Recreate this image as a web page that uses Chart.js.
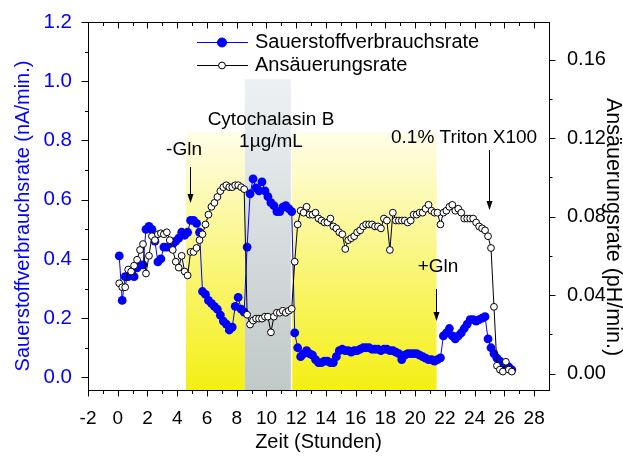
<!DOCTYPE html>
<html>
<head>
<meta charset="utf-8">
<script src="https://cdn.jsdelivr.net/npm/chart.js@4/dist/chart.umd.min.js"></script>
<style>
  html, body { margin: 0; padding: 0; background: #fff; }
  canvas { display: block; }
</style>
</head>
<body>
<canvas id="c" width="623" height="461"></canvas>
<script>
// Measurement times (hours)
const hours = [
  0.1, 0.3, 0.5, 0.7, 0.9, 1.1, 1.3, 1.5, 1.7, 1.9,
  2.1, 2.3, 2.5, 2.7, 2.9, 3.1, 3.3, 3.5, 3.7, 3.9,
  4.1, 4.3, 4.5, 4.7, 4.9, 5.1, 5.3, 5.5, 5.7, 5.9,
  6.1, 6.3, 6.5, 6.7, 6.9, 7.1, 7.3, 7.5, 7.7, 7.9,
  8.1, 8.3, 8.5, 8.7, 8.9, 9.1, 9.3, 9.5, 9.7, 9.9,
  10.1, 10.3, 10.5, 10.7, 10.9, 11.1, 11.3, 11.5, 11.7, 11.9,
  12.1, 12.3, 12.5, 12.7, 12.9, 13.1, 13.3, 13.5, 13.7, 13.9,
  14.1, 14.3, 14.5, 14.7, 14.9, 15.1, 15.3, 15.5, 15.7, 15.9,
  16.1, 16.3, 16.5, 16.7, 16.9, 17.1, 17.3, 17.5, 17.7, 17.9,
  18.1, 18.3, 18.5, 18.7, 18.9, 19.1, 19.3, 19.5, 19.7, 19.9,
  20.1, 20.3, 20.5, 20.7, 20.9, 21.1, 21.3, 21.5, 21.7, 21.9,
  22.1, 22.3, 22.5, 22.7, 22.9, 23.1, 23.3, 23.5, 23.7, 23.9,
  24.1, 24.3, 24.5, 24.7, 24.9, 25.1, 25.3, 25.5, 25.7, 25.9,
  26.1, 26.3, 26.5
];

// Sauerstoffverbrauchsrate (nA/min.)
const oxygenRate = [
  0.41, 0.26, 0.34, 0.34, 0.35, 0.34, 0.37, 0.38, 0.38, 0.50,
  0.51, 0.50, 0.46, 0.39, 0.40, 0.44, 0.44, 0.44, 0.45, 0.46,
  0.47, 0.49, 0.48, 0.49, 0.53, 0.53, 0.52, 0.49, 0.29, 0.28,
  0.26, 0.25, 0.24, 0.23, 0.21, 0.19, 0.18, 0.16, 0.17, 0.24,
  0.27, 0.23, 0.22, 0.44, 0.62, 0.67, 0.64, 0.63, 0.66, 0.63,
  0.61, 0.59, 0.58, 0.56, 0.56, 0.575, 0.58, 0.57, 0.56, 0.15,
  0.10, 0.07, 0.08, 0.09, 0.08, 0.075, 0.06, 0.05, 0.05, 0.055,
  0.055, 0.05, 0.05, 0.07, 0.09, 0.095, 0.09, 0.09, 0.085, 0.09,
  0.09, 0.095, 0.10, 0.10, 0.10, 0.095, 0.095, 0.095, 0.09, 0.095,
  0.095, 0.09, 0.09, 0.085, 0.08, 0.06, 0.075, 0.08, 0.08, 0.08,
  0.08, 0.075, 0.07, 0.065, 0.06, 0.06, 0.055, 0.06, 0.066, 0.14,
  0.15, 0.165, 0.14, 0.13, 0.14, 0.15, 0.165, 0.18, 0.195, 0.195,
  0.19, 0.195, 0.20, 0.205, 0.13, 0.10, 0.08, 0.065, 0.055, 0.045,
  0.04, 0.035, 0.025
];

// Ansäuerungsrate (pH/min.)
const acidRate = [
  0.046, 0.044, 0.044, 0.053, 0.052, 0.055, 0.058, 0.063, 0.066, 0.051,
  0.060, 0.070, 0.068, 0.071, 0.0715, 0.071, 0.072, 0.068, 0.063, 0.057,
  0.054, 0.060, 0.052, 0.050, 0.062, 0.062, 0.064, 0.068, 0.071, 0.076,
  0.081, 0.085, 0.087, 0.090, 0.093, 0.095, 0.096, 0.095, 0.095, 0.096,
  0.096, 0.095, 0.094, 0.030, 0.025, 0.027, 0.028, 0.028, 0.028, 0.029,
  0.029, 0.021, 0.029, 0.031, 0.031, 0.032, 0.031, 0.032, 0.033, 0.057,
  0.076, 0.083, 0.082, 0.085, 0.081, 0.081, 0.082, 0.079, 0.078, 0.077,
  0.077, 0.079, 0.075, 0.074, 0.072, 0.071, 0.0635, 0.068, 0.069, 0.070,
  0.072, 0.073, 0.075, 0.076, 0.076, 0.076, 0.075, 0.075, 0.074, 0.079,
  0.078, 0.063, 0.082, 0.078, 0.078, 0.078, 0.078, 0.077, 0.078, 0.081,
  0.081, 0.082, 0.082, 0.084, 0.086, 0.083, 0.082, 0.082, 0.076, 0.082,
  0.083, 0.085, 0.086, 0.083, 0.084, 0.082, 0.079, 0.079, 0.079, 0.079,
  0.077, 0.075, 0.074, 0.073, 0.070, 0.064, 0.034, 0.004, 0.002, 0.001,
  0.006, 0.002, 0.001
];

// Axis ticks
const xTickValues = [-2, 0, 2, 4, 6, 8, 10, 12, 14, 16, 18, 20, 22, 24, 26, 28];
const xMinorValues = [-1, 1, 3, 5, 7, 9, 11, 13, 15, 17, 19, 21, 23, 25, 27];
const leftTickValues = [0, 0.2, 0.4, 0.6, 0.8, 1.0, 1.2];
const leftMinorValues = [0.1, 0.3, 0.5, 0.7, 0.9, 1.1];
const rightTickValues = [0, 0.04, 0.08, 0.12, 0.16];
const rightMinorValues = [0.02, 0.06, 0.10, 0.14];

// Treatment phases (hours): glutamine-free, cytochalasin B, glutamine-free
const phaseStart = [4.58, 8.55, 11.73];
const phaseEnd = [8.55, 11.64, 21.44];
const phaseKind = ['medium', 'drug', 'medium'];

// Event times (hours) marked with arrows
const eventTimes = [4.85, 21.4, 24.96];
const eventLabels = ['-Gln', '+Gln', '0.1% Triton X100'];

const BLUE = '#0000ff';
const FONT = "'Liberation Sans', Arial, Helvetica, sans-serif";
Chart.defaults.font.family = FONT;
Chart.defaults.color = '#000';

function series(values) {
  return hours.map((h, i) => ({ x: h, y: values[i] }));
}

// Gradient bands behind the curves for each treatment phase
const phaseBands = {
  id: 'phaseBands',
  beforeDatasetsDraw(chart) {
    const { ctx, chartArea: a, scales: { x, y } } = chart;
    ctx.save();
    phaseStart.forEach((s, i) => {
      const x0 = x.getPixelForValue(s);
      const x1 = x.getPixelForValue(phaseEnd[i]);
      const drug = phaseKind[i] === 'drug';
      const top = y.getPixelForValue(drug ? 1.007 : 0.827);
      const g = ctx.createLinearGradient(0, top, 0, a.bottom);
      if (drug) {
        g.addColorStop(0, '#eef1f3');
        g.addColorStop(1, '#c0c8c8');
      } else {
        g.addColorStop(0, '#fffde8');
        g.addColorStop(1, '#f4ef12');
      }
      ctx.fillStyle = g;
      ctx.fillRect(x0, top, x1 - x0, a.bottom - top);
    });
    ctx.restore();
  }
};

// Box frame with major/minor tick marks on all four sides
const frameTicks = {
  id: 'frameTicks',
  afterDatasetsDraw(chart) {
    const { ctx, chartArea: a, scales: { x, y, y2 } } = chart;
    const L = Math.round(a.left) + 0.5, R = Math.round(a.right) + 0.5;
    const T = Math.round(a.top) + 0.5, B = Math.round(a.bottom) - 0.5;
    ctx.save();
    ctx.strokeStyle = '#000';
    ctx.lineWidth = 1;
    ctx.strokeRect(L, T, R - L, B - T);
    ctx.beginPath();
    const xt = (v, len) => {
      const p = Math.round(x.getPixelForValue(v)) + 0.5;
      ctx.moveTo(p, B); ctx.lineTo(p, B + len);
      ctx.moveTo(p, T); ctx.lineTo(p, T + len);
    };
    xTickValues.forEach(v => xt(v, 6));
    xMinorValues.forEach(v => xt(v, 3.5));
    const yl = (v, len) => {
      const p = Math.round(y.getPixelForValue(v)) + 0.5;
      ctx.moveTo(L, p); ctx.lineTo(L - len, p);
    };
    leftTickValues.forEach(v => yl(v, 7));
    leftMinorValues.forEach(v => yl(v, 3.5));
    const yr = (v, len) => {
      const p = Math.round(y2.getPixelForValue(v)) + 0.5;
      ctx.moveTo(R, p); ctx.lineTo(R + len, p);
    };
    rightTickValues.forEach(v => yr(v, 6));
    rightMinorValues.forEach(v => yr(v, 3));
    ctx.stroke();
    ctx.restore();
  }
};

// Axis titles, legend, and event annotations
const decorations = {
  id: 'decorations',
  afterDraw(chart) {
    const { ctx, chartArea: a, scales: { x } } = chart;
    ctx.save();
    ctx.textBaseline = 'middle';

    // axis titles
    ctx.font = '20px ' + FONT;
    ctx.textAlign = 'center';
    ctx.fillStyle = '#000';
    ctx.fillText('Zeit (Stunden)', (a.left + a.right) / 2, 442);

    ctx.save();
    ctx.translate(23, 216);
    ctx.rotate(-Math.PI / 2);
    ctx.fillStyle = BLUE;
    ctx.fillText('Sauerstoffverbrauchsrate (nA/min.)', 0, 0);
    ctx.restore();

    ctx.save();
    ctx.translate(613, 227);
    ctx.rotate(Math.PI / 2);
    ctx.fillStyle = '#000';
    ctx.font = '21.5px ' + FONT;
    ctx.fillText('Ansäuerungsrate (pH/min.)', 0, 0);
    ctx.restore();

    // legend
    const rows = [
      { ds: chart.data.datasets[1], y: 42, r: 4.5 },
      { ds: chart.data.datasets[0], y: 65, r: 3.4 }
    ];
    rows.forEach(row => {
      ctx.strokeStyle = row.ds.borderColor;
      ctx.lineWidth = 1;
      ctx.beginPath();
      ctx.moveTo(197, row.y + 0.5); ctx.lineTo(248, row.y + 0.5);
      ctx.stroke();
      ctx.beginPath();
      ctx.arc(222, row.y + 0.5, row.r, 0, Math.PI * 2);
      ctx.fillStyle = row.ds.pointBackgroundColor;
      ctx.fill();
      ctx.strokeStyle = row.ds.pointBorderColor;
      ctx.stroke();
      ctx.fillStyle = '#000';
      ctx.textAlign = 'left';
      ctx.font = '20px ' + FONT;
      ctx.fillText(row.ds.label, 255, row.y);
    });

    // annotations
    ctx.fillStyle = '#000';
    ctx.font = '19px ' + FONT;
    ctx.textAlign = 'center';
    ctx.fillText('Cytochalasin B', 271, 120);
    ctx.fillText('1\u00b5g/mL', 271, 142);
    ctx.fillText(eventLabels[0], 184, 150);
    ctx.fillText(eventLabels[1], 438, 267);
    ctx.textAlign = 'left';
    ctx.fillText(eventLabels[2], 391, 138);

    const arrows = [[167, 203], [289, 321], [150, 210]];
    eventTimes.forEach((t, i) => {
      const px = Math.round(x.getPixelForValue(t)) + 0.5;
      const [y0, y1] = arrows[i];
      ctx.strokeStyle = '#000';
      ctx.lineWidth = 1;
      ctx.beginPath();
      ctx.moveTo(px, y0); ctx.lineTo(px, y1 - 6);
      ctx.stroke();
      ctx.beginPath();
      ctx.moveTo(px, y1);
      ctx.lineTo(px - 3, y1 - 9);
      ctx.lineTo(px + 3, y1 - 9);
      ctx.closePath();
      ctx.fillStyle = '#000';
      ctx.fill();
    });
    ctx.restore();
  }
};

new Chart(document.getElementById('c'), {
  type: 'line',
  data: {
    datasets: [
      {
        label: 'Ansäuerungsrate',
        data: series(acidRate),
        yAxisID: 'y2',
        borderColor: '#000',
        borderWidth: 1,
        pointRadius: 3.4,
        pointBackgroundColor: '#fff',
        pointBorderColor: '#000',
        pointBorderWidth: 1,
        tension: 0,
        order: 1
      },
      {
        label: 'Sauerstoffverbrauchsrate',
        data: series(oxygenRate),
        yAxisID: 'y',
        borderColor: BLUE,
        borderWidth: 1,
        pointRadius: 4.4,
        pointBackgroundColor: BLUE,
        pointBorderColor: BLUE,
        pointBorderWidth: 0,
        tension: 0,
        order: 2
      }
    ]
  },
  options: {
    responsive: false,
    animation: false,
    devicePixelRatio: 1,
    layout: { padding: { top: 15, left: 0, right: 0, bottom: 0 } },
    plugins: { legend: { display: false }, tooltip: { enabled: false } },
    scales: {
      x: {
        type: 'linear',
        position: 'bottom',
        min: -2,
        max: 29,
        afterBuildTicks: s => { s.ticks = xTickValues.map(v => ({ value: v })); },
        afterFit: s => { s.height = 70; },
        grid: { display: false },
        border: { display: false },
        ticks: {
          color: '#000',
          font: { size: 19 },
          padding: 8,
          maxRotation: 0,
          autoSkip: false,
          callback: v => String(v)
        }
      },
      y: {
        type: 'linear',
        position: 'left',
        min: -0.046,
        max: 1.2,
        afterBuildTicks: s => { s.ticks = leftTickValues.map(v => ({ value: v })); },
        afterFit: s => { s.width = 88; },
        grid: { display: false },
        border: { display: false },
        ticks: {
          color: BLUE,
          font: { size: 20.5 },
          padding: 8,
          autoSkip: false,
          callback: v => v.toFixed(1)
        }
      },
      y2: {
        type: 'linear',
        position: 'right',
        min: -0.0089,
        max: 0.1792,
        afterBuildTicks: s => { s.ticks = rightTickValues.map(v => ({ value: v })); },
        afterFit: s => { s.width = 74; },
        grid: { display: false },
        border: { display: false },
        ticks: {
          color: '#000',
          font: { size: 20 },
          padding: 10,
          autoSkip: false,
          callback: v => v.toFixed(2)
        }
      }
    }
  },
  plugins: [phaseBands, frameTicks, decorations]
});
</script>
</body>
</html>
